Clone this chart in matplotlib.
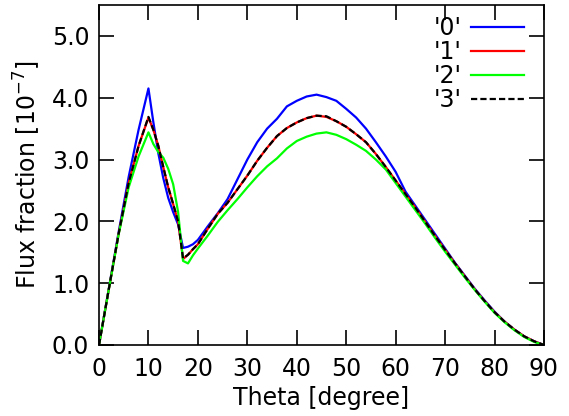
import numpy as np
import matplotlib
matplotlib.use('Agg')
import matplotlib.pyplot as plt

# Angulos (grados) y fraccion de flujo [1e-7] para cada serie
theta = [0, 2, 4, 6, 8, 10, 11, 12, 13, 14, 15, 16, 17, 18, 19, 20,
         22, 24, 26, 28, 30, 32, 34, 36, 38, 40, 42, 44, 46, 48, 50,
         52, 54, 56, 58, 60, 62, 64, 66, 68, 70, 72, 74, 76, 78, 80,
         82, 84, 86, 88, 90]

flux0 = [0.0, 0.92, 1.84, 2.72, 3.48, 4.15, 3.60, 3.10, 2.70, 2.38, 2.15, 1.95, 1.57, 1.59, 1.63, 1.70,
         1.92, 2.13, 2.36, 2.68, 3.00, 3.28, 3.50, 3.66, 3.86, 3.95, 4.02, 4.05, 4.01, 3.95, 3.82,
         3.68, 3.50, 3.28, 3.05, 2.80, 2.48, 2.25, 2.02, 1.79, 1.56, 1.33, 1.12, 0.91, 0.72, 0.54,
         0.38, 0.25, 0.14, 0.06, 0.0]

flux1 = [0.0, 0.91, 1.81, 2.62, 3.22, 3.68, 3.48, 3.22, 2.88, 2.55, 2.28, 2.00, 1.39, 1.46, 1.55, 1.63,
         1.88, 2.12, 2.30, 2.52, 2.74, 2.98, 3.19, 3.38, 3.51, 3.60, 3.67, 3.71, 3.69, 3.62, 3.53,
         3.41, 3.28, 3.09, 2.88, 2.66, 2.44, 2.22, 1.99, 1.76, 1.54, 1.32, 1.11, 0.90, 0.71, 0.53,
         0.38, 0.25, 0.14, 0.06, 0.0]

flux2 = [0.0, 0.91, 1.80, 2.55, 3.05, 3.44, 3.25, 3.12, 3.03, 2.85, 2.60, 2.15, 1.36, 1.32, 1.45, 1.56,
         1.77, 1.99, 2.18, 2.36, 2.55, 2.73, 2.89, 3.02, 3.18, 3.30, 3.37, 3.42, 3.44, 3.40, 3.33,
         3.24, 3.14, 3.00, 2.84, 2.62, 2.40, 2.18, 1.96, 1.73, 1.51, 1.30, 1.09, 0.89, 0.70, 0.52,
         0.37, 0.24, 0.13, 0.05, 0.0]

flux3 = [0.0, 0.91, 1.81, 2.62, 3.22, 3.69, 3.48, 3.22, 2.88, 2.55, 2.28, 2.00, 1.40, 1.46, 1.55, 1.63,
         1.88, 2.12, 2.30, 2.52, 2.74, 2.98, 3.19, 3.38, 3.51, 3.60, 3.67, 3.71, 3.70, 3.62, 3.53,
         3.41, 3.28, 3.09, 2.88, 2.66, 2.44, 2.22, 1.99, 1.76, 1.54, 1.32, 1.11, 0.90, 0.71, 0.53,
         0.38, 0.25, 0.14, 0.06, 0.0]

plt.rcParams['font.family'] = 'DejaVu Sans'
plt.rcParams['font.size'] = 17

fig = plt.figure(figsize=(5.69, 4.16), dpi=100)
ax = fig.add_axes([99/569, 1 - 345/416, 445/569, 340/416])

ax.plot(theta, flux0, color='#0000ff', lw=1.6, label="'0'")
ax.plot(theta, flux1, color='#ff0000', lw=1.6, label="'1'")
ax.plot(theta, flux2, color='#00ff00', lw=1.6, label="'2'")
ax.plot(theta, flux3, color='black', lw=1.6, dashes=(2.8, 1.4), label="'3'")

ax.set_xlim(0, 90)
ax.set_ylim(0, 5.5)
ax.set_xticks(np.arange(0, 91, 10))
ax.set_yticks(np.arange(0, 5.1, 1.0))
ax.set_yticklabels(['%.1f' % v for v in np.arange(0, 5.1, 1.0)])
ax.tick_params(direction='in', length=11, width=1.2, top=True, right=True)
ax.tick_params(axis='x', pad=9)
ax.tick_params(axis='y', pad=7)
for s in ax.spines.values():
    s.set_linewidth(1.2)

ax.set_xlabel('Theta [degree]', labelpad=3)
ax.set_ylabel('Flux fraction [10$^{-7}$]', labelpad=6)

ax.legend(loc='upper right', frameon=False, markerfirst=False, fontsize=17,
          handlelength=2.25, handletextpad=0.38, labelspacing=0.0,
          borderaxespad=0, borderpad=0,
          bbox_to_anchor=(1 - 20/445, 1 - 11/340))

fig.savefig('out.png', dpi=100)
